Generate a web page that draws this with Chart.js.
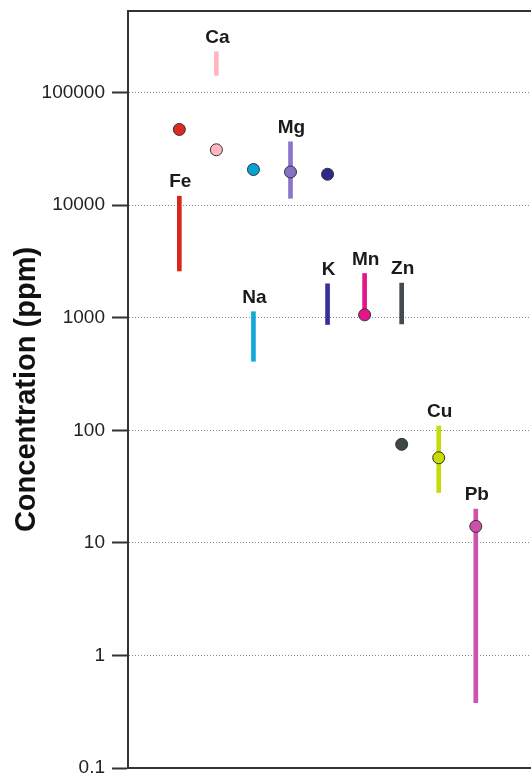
<!DOCTYPE html>
<html>
<head>
<meta charset="utf-8">
<script src="https://cdn.jsdelivr.net/npm/chart.js@4/dist/chart.umd.min.js"></script>
<style>
    html, body { margin: 0; padding: 0; background: #fff; overflow: hidden; }
    canvas { display: block; }
</style>
</head>
<body>
<canvas id="conc-chart" width="531" height="777"></canvas>
<script>
// Element names, one per x position
const elements = ['Fe', 'Ca', 'Na', 'Mg', 'K', 'Mn', 'Zn', 'Cu', 'Pb'];
// Concentration ranges (ppm), drawn as vertical bars
const rangeLow  = [2600, 142000, 410, 11500, 870, 1060, 880, 28, 0.38];
const rangeHigh = [12000, 230000, 1130, 36500, 2000, 2470, 2030, 109, 20];
// Single values (ppm), drawn as dots
const pointValues = [47000, 31000, 20700, 19700, 18800, 1060, 75, 57, 14];
// Y axis tick labels
const yTicks = [0.1, 1, 10, 100, 1000, 10000, 100000];

const barColors   = ['#d9261c', '#ffb6bd', '#12a9d8', '#8b74c9', '#3a2f98', '#e4168b', '#444b4f', '#c6dc0a', '#d052ae'];
const pointColors = ['#dd2a1e', '#ffb6bd', '#05a3d3', '#8770c6', '#2e2a8c', '#e0168a', '#3e4649', '#c8dc00', '#cc4fab'];

const FONT = '"Liberation Sans", Arial, Helvetica, sans-serif';

// drop the extra room Chart.js keeps for tick labels
function noPadding(s) {
    s.paddingTop = 0;
    s.paddingBottom = 0;
    s.paddingLeft = 0;
    s.paddingRight = 0;
}

// let the plot run off the right edge of the canvas, like the cropped original
const stretchRight = {
    id: 'stretchRight',
    afterLayout(chart) {
        const area = chart.chartArea;
        area.right = chart.width;
        area.width = area.right - area.left;
        const xs = chart.scales.x;
        xs.right = chart.width;
        xs.width = xs.right - xs.left;
        xs.configure();
        Object.values(chart.scales).forEach(s => {
            if (s.id !== 'x' && s.id !== 'y') s.draw = () => {};
        });
    }
};

// element names above each range bar
const elementLabels = {
    id: 'elementLabels',
    afterDatasetsDraw(chart) {
        const { ctx, scales } = chart;
        ctx.save();
        ctx.font = 'bold 19px ' + FONT;
        ctx.fillStyle = '#1a1a1a';
        ctx.textAlign = 'center';
        ctx.textBaseline = 'middle';
        elements.forEach((name, i) => {
            const x = scales.x.getPixelForValue(i) + 1;
            const y = scales.y.getPixelForValue(rangeHigh[i]) - 14;
            ctx.fillText(name, x, y);
        });
        ctx.restore();
    }
};

// top and bottom frame lines, running off the right edge
const frameLines = {
    id: 'frameLines',
    afterDraw(chart) {
        const { ctx, chartArea } = chart;
        ctx.save();
        ctx.strokeStyle = '#333';
        ctx.lineWidth = 2;
        ctx.beginPath();
        ctx.moveTo(chartArea.left - 1, chartArea.top);
        ctx.lineTo(chart.width, chartArea.top);
        ctx.moveTo(chartArea.left - 1, chartArea.bottom);
        ctx.lineTo(chart.width, chartArea.bottom);
        ctx.stroke();
        ctx.restore();
    }
};

new Chart(document.getElementById('conc-chart'), {
    type: 'bar',
    data: {
        datasets: [
            {
                type: 'scatter',
                label: 'Value',
                data: pointValues.map((v, i) => ({ x: i, y: v })),
                backgroundColor: pointColors,
                borderColor: '#333',
                borderWidth: 1,
                pointRadius: 6,
                order: 0
            },
            {
                type: 'bar',
                label: 'Range',
                data: rangeLow.map((lo, i) => ({ x: i, y: [lo, rangeHigh[i]] })),
                backgroundColor: barColors,
                borderWidth: 0,
                barThickness: 4,
                order: 1
            }
        ]
    },
    options: {
        responsive: false,
        animation: false,
        layout: { padding: { top: 11, right: 0, bottom: 9, left: 0 } },
        plugins: {
            legend: { display: false },
            tooltip: { enabled: false }
        },
        scales: {
            x: {
                type: 'linear',
                offset: false,
                min: -1.385,
                max: 9.49,
                grid: { display: false, drawTicks: false },
                ticks: { display: false },
                border: { display: false },
                afterFit: s => { s.height = 0; noPadding(s); }
            },
            y: {
                type: 'logarithmic',
                min: 0.1,
                max: 530000,
                afterBuildTicks: s => { s.ticks = yTicks.map(v => ({ value: v })); },
                afterFit: s => { s.width = 128; noPadding(s); },
                ticks: {
                    color: '#222',
                    font: { family: FONT, size: 19 },
                    padding: 7,
                    callback: v => String(v)
                },
                grid: {
                    color: '#8a8a8a',
                    lineWidth: 1,
                    tickColor: '#333',
                    tickWidth: 2,
                    tickLength: 16,
                    tickBorderDash: []
                },
                border: { display: true, color: '#333', width: 2, dash: [1, 2] },
                title: {
                    display: true,
                    text: 'Concentration (ppm)',
                    color: '#111',
                    font: { family: FONT, size: 29, weight: 'bold' },
                    padding: { top: 10, bottom: 0 }
                }
            }
        }
    },
    plugins: [stretchRight, elementLabels, frameLines]
});
</script>
</body>
</html>
